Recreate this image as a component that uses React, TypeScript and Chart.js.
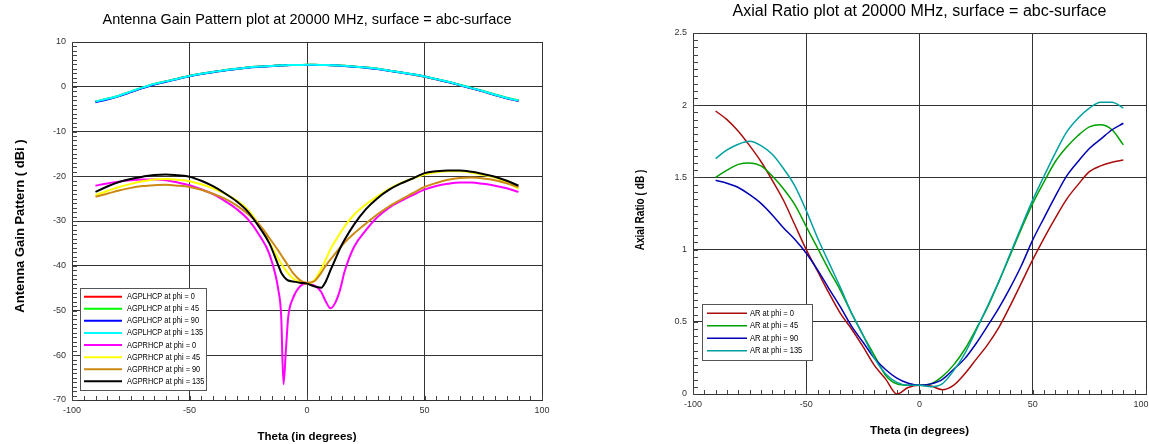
import React, { useEffect, useRef } from 'react';
import { Chart, registerables } from 'chart.js';

Chart.register(...registerables);

const FONT = "'Liberation Sans', Arial, sans-serif";

// ---------------- Left chart data: Antenna Gain Pattern ----------------
const THETA_GAIN = [-90, -85, -80, -75, -70, -65, -60, -55, -50, -45, -40, -35, -30, -25, -20, -16, -12, -11, -10, -9, -8, -6, -3, 0, 3, 6, 8, 10, 12, 14, 16, 20, 25, 30, 35, 40, 45, 50, 55, 60, 65, 70, 75, 80, 85, 90];

const AGPLHCP_PHI0 = [-3.35, -2.75, -2.05, -1.15, -0.25, 0.55, 1.2, 1.8, 2.4, 2.9, 3.3, 3.7, 4.0, 4.3, 4.5, 4.65, 4.75, 4.78, 4.8, 4.82, 4.84, 4.86, 4.88, 4.9, 4.9, 4.88, 4.86, 4.82, 4.78, 4.74, 4.68, 4.5, 4.3, 4.0, 3.6, 3.2, 2.75, 2.25, 1.65, 1.05, 0.35, -0.35, -1.05, -1.85, -2.55, -3.15];
const AGPLHCP_PHI45 = [-3.3, -2.7, -2.0, -1.1, -0.2, 0.6, 1.2, 1.8, 2.4, 2.9, 3.3, 3.7, 4.0, 4.3, 4.5, 4.65, 4.75, 4.78, 4.8, 4.82, 4.84, 4.86, 4.88, 4.9, 4.9, 4.88, 4.86, 4.82, 4.78, 4.74, 4.68, 4.5, 4.3, 4.0, 3.6, 3.2, 2.8, 2.3, 1.7, 1.1, 0.45, -0.25, -0.95, -1.75, -2.45, -3.0];
const AGPLHCP_PHI90 = [-3.45, -2.85, -2.1, -1.2, -0.3, 0.5, 1.1, 1.75, 2.35, 2.85, 3.25, 3.65, 3.95, 4.25, 4.45, 4.6, 4.72, 4.75, 4.77, 4.8, 4.82, 4.84, 4.86, 4.88, 4.88, 4.86, 4.84, 4.8, 4.76, 4.72, 4.66, 4.48, 4.27, 3.97, 3.57, 3.17, 2.77, 2.27, 1.67, 1.07, 0.37, -0.33, -1.03, -1.83, -2.55, -3.2];
const AGPLHCP_PHI135 = [-3.3, -2.7, -2.0, -1.1, -0.2, 0.6, 1.2, 1.8, 2.4, 2.9, 3.3, 3.7, 4.0, 4.3, 4.5, 4.65, 4.75, 4.78, 4.8, 4.82, 4.84, 4.86, 4.88, 4.9, 4.9, 4.88, 4.86, 4.82, 4.78, 4.74, 4.68, 4.5, 4.3, 4.0, 3.6, 3.2, 2.8, 2.3, 1.7, 1.1, 0.4, -0.3, -1.0, -1.8, -2.5, -3.1];
const AGPRHCP_PHI0 = [-22.1, -21.6, -21.2, -20.9, -20.7, -20.7, -20.9, -21.4, -22.0, -22.9, -24.0, -25.5, -27.3, -29.7, -33.4, -37.4, -46.0, -51.0, -66.5, -59.0, -51.5, -47.3, -44.6, -44.0, -44.4, -45.8, -48.0, -49.5, -48.3, -45.5, -41.3, -35.8, -32.1, -29.1, -27.0, -25.5, -24.2, -23.0, -22.2, -21.7, -21.4, -21.4, -21.7, -22.1, -22.7, -23.5];
const AGPRHCP_PHI45 = [-24.2, -23.3, -22.4, -21.7, -21.1, -20.7, -20.6, -20.8, -21.1, -21.8, -22.7, -23.9, -25.4, -27.6, -31.2, -34.8, -38.6, -39.5, -40.3, -41.0, -41.7, -42.8, -43.7, -44.0, -43.3, -40.8, -38.6, -36.3, -34.5, -32.8, -31.2, -28.6, -26.3, -24.5, -22.8, -21.5, -20.5, -19.6, -19.1, -18.9, -18.9, -19.2, -19.7, -20.3, -21.4, -22.8];
const AGPRHCP_PHI90 = [-24.6, -23.9, -23.2, -22.6, -22.2, -22.0, -21.9, -22.1, -22.4, -23.0, -23.9, -25.0, -26.5, -28.5, -31.0, -33.8, -36.8, -37.6, -38.4, -39.2, -40.0, -41.6, -43.2, -43.8, -43.5, -41.6, -40.0, -38.6, -37.3, -36.0, -34.8, -32.8, -30.6, -28.5, -26.7, -25.2, -23.8, -22.4, -21.5, -20.8, -20.4, -20.3, -20.5, -20.9, -21.6, -22.4];
const AGPRHCP_PHI135 = [-23.5, -22.3, -21.3, -20.6, -20.1, -19.7, -19.6, -19.8, -20.1, -21.0, -22.2, -23.8, -25.6, -28.0, -31.6, -35.0, -40.2, -41.5, -42.3, -42.9, -43.3, -43.5, -43.8, -44.0, -44.6, -44.9, -43.5, -41.0, -38.6, -36.2, -34.2, -30.8, -27.4, -24.9, -23.0, -21.6, -20.5, -19.3, -18.9, -18.7, -18.7, -19.0, -19.5, -20.1, -21.0, -22.1];

const GAIN_LABELS = ['AGPLHCP at phi = 0', 'AGPLHCP at phi = 45', 'AGPLHCP at phi = 90', 'AGPLHCP at phi = 135', 'AGPRHCP at phi = 0', 'AGPRHCP at phi = 45', 'AGPRHCP at phi = 90', 'AGPRHCP at phi = 135'];
const GAIN_COLORS = ['#ff0000', '#00ff00', '#0000ff', '#00ffff', '#ff00ff', '#ffff00', '#cc8a14', '#000000'];
const GAIN_SERIES = [AGPLHCP_PHI0, AGPLHCP_PHI45, AGPLHCP_PHI90, AGPLHCP_PHI135, AGPRHCP_PHI0, AGPRHCP_PHI45, AGPRHCP_PHI90, AGPRHCP_PHI135];
const GAIN_Y_MAJOR = [10, 0, -10, -20, -30, -40, -50, -60, -70];

// ---------------- Right chart data: Axial Ratio ----------------
const THETA_AR = [-90, -85, -80, -75, -70, -65, -60, -55, -50, -45, -40, -35, -30, -25, -20, -15, -10, -5, 0, 5, 10, 15, 20, 25, 30, 35, 40, 45, 50, 55, 60, 65, 70, 75, 80, 85, 90];
const AR_PHI0 = [1.96, 1.90, 1.82, 1.72, 1.61, 1.48, 1.34, 1.17, 1.00, 0.85, 0.70, 0.56, 0.45, 0.33, 0.20, 0.105, 0.0, 0.045, 0.06, 0.055, 0.03, 0.06, 0.14, 0.24, 0.34, 0.46, 0.61, 0.77, 0.93, 1.08, 1.22, 1.35, 1.45, 1.54, 1.58, 1.605, 1.62];
const AR_PHI45 = [1.50, 1.55, 1.59, 1.60, 1.58, 1.51, 1.42, 1.31, 1.16, 1.01, 0.86, 0.72, 0.56, 0.41, 0.27, 0.13, 0.07, 0.06, 0.06, 0.07, 0.12, 0.20, 0.31, 0.45, 0.60, 0.775, 0.96, 1.145, 1.32, 1.47, 1.61, 1.71, 1.79, 1.85, 1.865, 1.83, 1.725];
const AR_PHI90 = [1.48, 1.46, 1.43, 1.38, 1.32, 1.24, 1.15, 1.07, 0.975, 0.86, 0.73, 0.605, 0.47, 0.36, 0.25, 0.17, 0.11, 0.075, 0.06, 0.07, 0.10, 0.17, 0.245, 0.35, 0.47, 0.595, 0.735, 0.89, 1.067, 1.22, 1.37, 1.51, 1.61, 1.70, 1.765, 1.83, 1.875];
const AR_PHI135 = [1.63, 1.69, 1.73, 1.75, 1.72, 1.66, 1.56, 1.44, 1.27, 1.08, 0.91, 0.74, 0.56, 0.41, 0.25, 0.14, 0.08, 0.06, 0.06, 0.05, 0.07, 0.16, 0.28, 0.44, 0.607, 0.78, 0.97, 1.16, 1.344, 1.51, 1.67, 1.815, 1.91, 1.98, 2.02, 2.02, 1.98];

const AR_LABELS = ['AR at phi = 0', 'AR at phi = 45', 'AR at phi = 90', 'AR at phi = 135'];
const AR_COLORS = ['#a80c0c', '#00a000', '#0000b4', '#00a0a0'];
const AR_SERIES = [AR_PHI0, AR_PHI45, AR_PHI90, AR_PHI135];
const AR_Y_MAJOR = [0, 0.5, 1, 1.5, 2, 2.5];

const X_MAJOR = [-100, -50, 0, 50, 100];

const isIn = (arr: number[], v: number) => arr.some((m) => Math.abs(m - v) < 1e-6);

// ---------------- plugins ----------------
const innerTicksPlugin = {
  id: 'innerTicks',
  beforeDatasetsDraw(chart: any) {
    const { ctx, chartArea: a, scales } = chart;
    ctx.save();
    ctx.strokeStyle = '#444';
    ctx.lineWidth = 1;
    ctx.beginPath();
    for (const t of scales.x.ticks) {
      const p = Math.round(scales.x.getPixelForValue(t.value)) + 0.5;
      ctx.moveTo(p, a.bottom);
      ctx.lineTo(p, a.bottom - 4);
    }
    for (const t of scales.y.ticks) {
      const p = Math.round(scales.y.getPixelForValue(t.value)) + 0.5;
      ctx.moveTo(a.left, p);
      ctx.lineTo(a.left + 5, p);
    }
    ctx.stroke();
    ctx.restore();
  },
};

const boxLegendPlugin = {
  id: 'boxLegend',
  afterDatasetsDraw(chart: any, _args: any, o: any) {
    const { ctx, chartArea: a } = chart;
    const ds = chart.data.datasets;
    const h = ds.length * o.rowHeight + o.padY * 2;
    const x0 = Math.round(a.left + o.offsetX);
    const y0 = Math.round(a.bottom - o.offsetBottom - h);
    ctx.save();
    ctx.fillStyle = '#ffffff';
    ctx.fillRect(x0, y0, o.width, h);
    ctx.strokeStyle = '#555';
    ctx.lineWidth = 1;
    ctx.strokeRect(x0 + 0.5, y0 + 0.5, o.width, h);
    ds.forEach((d: any, i: number) => {
      const y = y0 + o.padY + o.rowHeight * (i + 0.5);
      ctx.strokeStyle = d.borderColor;
      ctx.lineWidth = o.lineWidth;
      ctx.beginPath();
      ctx.moveTo(x0 + o.sampleX, y);
      ctx.lineTo(x0 + o.sampleX + o.sampleLen, y);
      ctx.stroke();
      ctx.save();
      ctx.translate(x0 + o.textX, y);
      ctx.scale(o.condense, 1);
      ctx.font = `${o.fontSize}px ${FONT}`;
      ctx.textBaseline = 'middle';
      ctx.textAlign = 'left';
      ctx.fillStyle = '#000';
      ctx.fillText(d.label, 0, 0);
      ctx.restore();
    });
    ctx.restore();
  },
};

const yTitlePlugin = {
  id: 'yTitle',
  afterDraw(chart: any, _args: any, o: any) {
    const { ctx } = chart;
    ctx.save();
    ctx.translate(o.x, o.y);
    ctx.rotate(-Math.PI / 2);
    ctx.scale(o.condense, 1);
    ctx.font = `bold ${o.fontSize}px ${FONT}`;
    ctx.fillStyle = '#000';
    ctx.textAlign = 'center';
    ctx.textBaseline = 'middle';
    ctx.fillText(o.text, 0, 0);
    ctx.restore();
  },
};

function buildConfig(p: any) {
  const gridColor = (majors: number[]) => (c: any) =>
    c.tick && isIn(majors, c.tick.value) ? '#333' : 'rgba(0,0,0,0)';
  return {
    type: 'line',
    data: {
      datasets: p.series.map((vals: number[], i: number) => ({
        label: p.labels[i],
        data: p.theta.map((t: number, j: number) => ({ x: t, y: vals[j] })),
        borderColor: p.colors[i],
        backgroundColor: p.colors[i],
        borderWidth: p.lineWidth,
        pointRadius: 0,
        fill: false,
        cubicInterpolationMode: 'monotone',
        order: p.series.length - i,
      })),
    },
    options: {
      animation: false,
      responsive: false,
      devicePixelRatio: 1,
      layout: { padding: { left: 0, right: p.padRight, top: 0, bottom: 0 } },
      plugins: {
        legend: { display: false },
        tooltip: { enabled: false },
        title: {
          display: true,
          text: p.title,
          fullSize: false,
          color: '#000',
          font: { family: FONT, size: p.titleSize, weight: 'normal' },
          padding: { top: p.titleTop, bottom: p.titleBottom },
        },
        boxLegend: p.legend,
        yTitle: p.yTitle,
      },
      scales: {
        x: {
          type: 'linear',
          min: -100,
          max: 100,
          ticks: {
            stepSize: 5,
            maxTicksLimit: 1000,
            autoSkip: false,
            maxRotation: 0,
            minRotation: 0,
            padding: 5,
            color: '#333',
            font: { family: FONT, size: 9 },
            callback: (v: any) => {
              const n = Number(v);
              if (!isIn(X_MAJOR, n)) return '';
              const s = String(Math.round(n));
              return n === 100 ? s + p.lastXPad : s;
            },
          },
          grid: { color: gridColor(X_MAJOR), lineWidth: 1, drawTicks: false },
          border: { display: true, color: '#333', width: 1 },
          title: {
            display: true,
            text: 'Theta (in degrees)',
            color: '#000',
            font: { family: FONT, size: 11.5, weight: 'bold' },
            padding: { top: 0, bottom: p.xTitlePad },
          },
          afterFit: (s: any) => {
            s.height = p.xAxisHeight;
            s.paddingLeft = 0;
            s.paddingRight = 0;
          },
        },
        y: {
          type: 'linear',
          min: p.yMin,
          max: p.yMax,
          ticks: {
            stepSize: p.yStep,
            maxTicksLimit: 1000,
            autoSkip: false,
            padding: 6,
            color: '#333',
            font: { family: FONT, size: 9 },
            callback: (v: any) =>
              isIn(p.yMajor, Number(v)) ? String(Math.round(Number(v) * 10) / 10) : '',
          },
          grid: { color: gridColor(p.yMajor), lineWidth: 1, drawTicks: false },
          border: { display: true, color: '#333', width: 1 },
          title: { display: false },
          afterFit: (s: any) => {
            s.width = p.yAxisWidth;
            s.paddingTop = 0;
            s.paddingBottom = 0;
          },
        },
      },
    },
    plugins: [innerTicksPlugin, boxLegendPlugin, yTitlePlugin],
  };
}

const CANVAS_W = 600;
const CANVAS_H = 460;

const gainConfig = () =>
  buildConfig({
    theta: THETA_GAIN,
    series: GAIN_SERIES,
    labels: GAIN_LABELS,
    colors: GAIN_COLORS,
    lineWidth: 2,
    title: 'Antenna Gain Pattern plot at 20000 MHz, surface = abc-surface',
    titleSize: 14.5,
    titleTop: 11,
    titleBottom: 13.6,
    padRight: 58,
    yAxisWidth: 72,
    xAxisHeight: 60,
    xTitlePad: 16,
    lastXPad: '',
    yMin: -70,
    yMax: 10,
    yStep: 1,
    yMajor: GAIN_Y_MAJOR,
    legend: { offsetX: 8, offsetBottom: 10, width: 126, rowHeight: 12.1, padY: 2.6, sampleX: 4, sampleLen: 38, textX: 47, fontSize: 9, condense: 0.82, lineWidth: 2 },
    yTitle: { text: 'Antenna Gain Pattern ( dBi )', x: 20, y: 226, fontSize: 13, condense: 1 },
  });

const arConfig = () =>
  buildConfig({
    theta: THETA_AR,
    series: AR_SERIES,
    labels: AR_LABELS,
    colors: AR_COLORS,
    lineWidth: 1.5,
    title: 'Axial Ratio plot at 20000 MHz, surface = abc-surface',
    titleSize: 16,
    titleTop: 2.4,
    titleBottom: 11.4,
    padRight: 54,
    yAxisWidth: 93,
    xAxisHeight: 66,
    xTitlePad: 22.5,
    lastXPad: '    ',
    yMin: 0,
    yMax: 2.5,
    yStep: 0.05,
    yMajor: AR_Y_MAJOR,
    legend: { offsetX: 9, offsetBottom: 34, width: 110, rowHeight: 12.5, padY: 3, sampleX: 5, sampleLen: 40, textX: 48, fontSize: 9, condense: 0.84, lineWidth: 1.5 },
    yTitle: { text: 'Axial Ratio ( dB )', x: 41, y: 210, fontSize: 12, condense: 0.84 },
  });

function ChartCanvas({ makeConfig, left }: { makeConfig: () => any; left: number }) {
  const ref = useRef<HTMLCanvasElement>(null);
  useEffect(() => {
    if (!ref.current) return;
    const chart = new Chart(ref.current, makeConfig());
    return () => chart.destroy();
  }, [makeConfig]);
  return (
    <canvas
      ref={ref}
      width={CANVAS_W}
      height={CANVAS_H}
      style={{ position: 'absolute', left, top: 0, width: CANVAS_W, height: CANVAS_H }}
    />
  );
}

export default function App() {
  return (
    <div
      style={{
        position: 'absolute',
        left: 0,
        top: 0,
        width: 1149,
        height: 444,
        overflow: 'hidden',
        background: '#ffffff',
      }}
    >
      <ChartCanvas makeConfig={gainConfig} left={0} />
      <ChartCanvas makeConfig={arConfig} left={600} />
    </div>
  );
}
